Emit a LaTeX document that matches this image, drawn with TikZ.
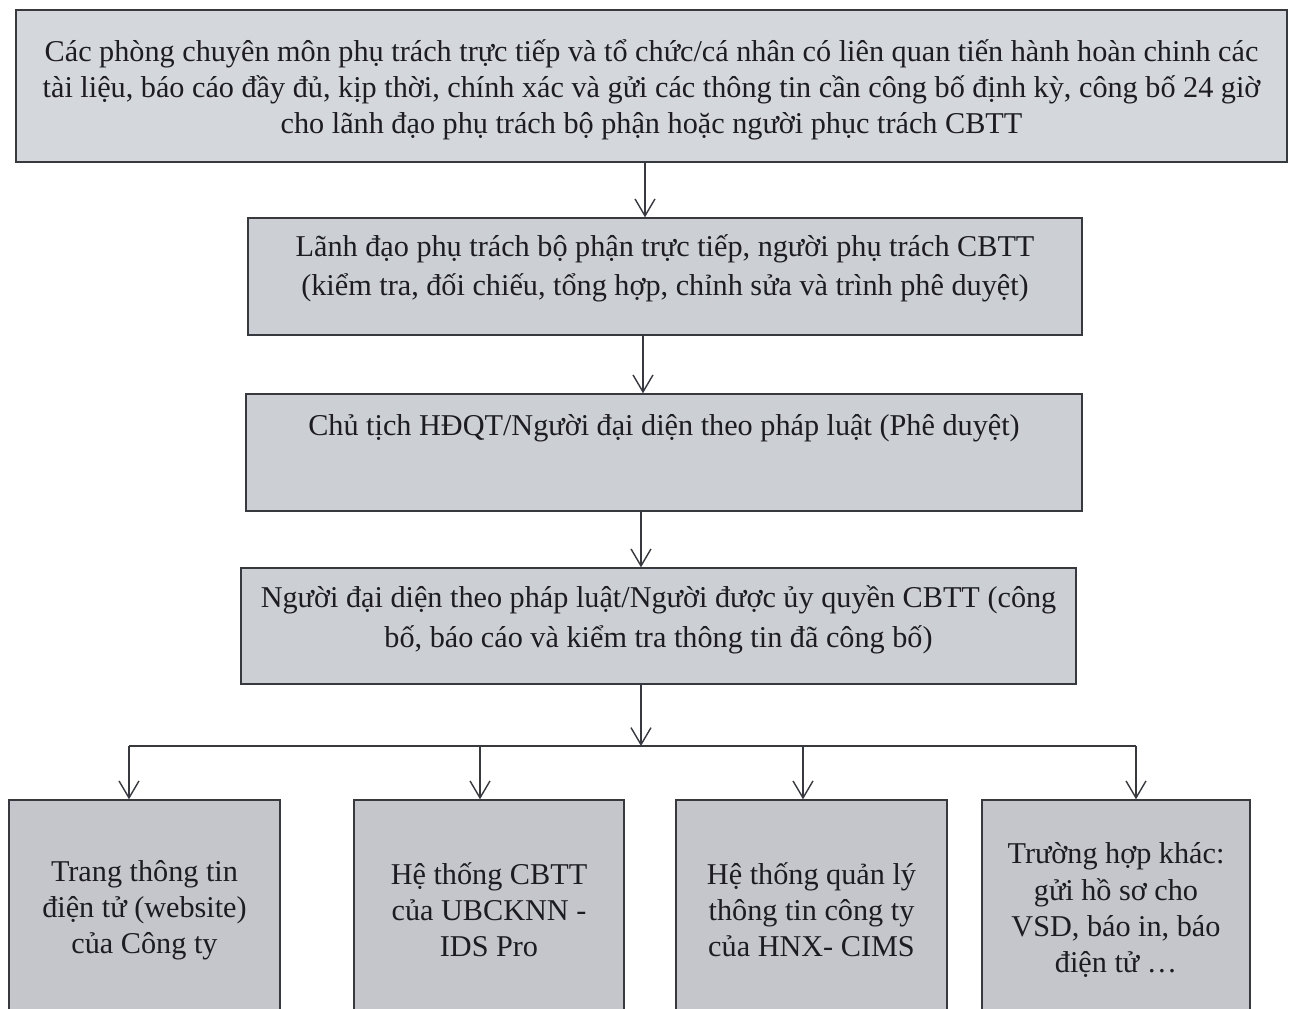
\documentclass[tikz,border=0pt]{standalone}
\usepackage{fontspec}
\setmainfont{Liberation Serif}
\usepackage{xcolor}
\usetikzlibrary{arrows.meta}
\definecolor{boxgray}{RGB}{204,207,212}
\definecolor{boxgraylight}{RGB}{212,215,220}
\definecolor{boxgraydark}{RGB}{196,198,203}
\definecolor{lineink}{RGB}{55,57,64}
\definecolor{textink}{RGB}{28,28,34}

\tikzset{
  flowbox/.style={draw=lineink, line width=0.8pt, fill=boxgray, align=center,
    text=textink, inner sep=2pt, font=\fontsize{17.2}{22.5}\selectfont},
  channelbox/.style={flowbox, fill=boxgraydark, minimum width=5.4cm, minimum height=4.4cm,
    font=\fontsize{17.2}{20.5}\selectfont},
  arr/.style={draw=lineink, line width=0.8pt, -{Straight Barb[length=3.4mm,width=4mm]}}
}

\begin{document}
\begin{tikzpicture}
    \useasboundingbox (0,0) rectangle (25.88,-20.18);

    \node[flowbox, fill=boxgraylight, minimum width=25.42cm, minimum height=3.04cm,
      font=\fontsize{17.2}{20.6}\selectfont] (prepare) at (13.03,-1.72)
      {\rule{0pt}{17pt}Các phòng chuyên môn phụ trách trực tiếp và tổ chức/cá nhân có liên quan tiến hành hoàn chinh các\\
       tài liệu, báo cáo đầy đủ, kịp thời, chính xác và gửi các thông tin cần công bố định kỳ, công bố 24 giờ\\
       cho lãnh đạo phụ trách bộ phận hoặc người phục trách CBTT};
    \node[flowbox, minimum width=16.68cm, minimum height=2.34cm] (review) at (13.3,-5.53)
      {Lãnh đạo phụ trách bộ phận trực tiếp, người phụ trách CBTT\\
       (kiểm tra, đối chiếu, tổng hợp, chỉnh sửa và trình phê duyệt)\rule[-13pt]{0pt}{0pt}};
    \node[flowbox, minimum width=16.72cm, minimum height=2.34cm] (approve) at (13.28,-9.05)
      {Chủ tịch HĐQT/Người đại diện theo pháp luật (Phê duyệt)\\[9pt]~};
    \node[flowbox, minimum width=16.7cm, minimum height=2.32cm] (publish) at (13.17,-12.52)
      {Người đại diện theo pháp luật/Người được ủy quyền CBTT (công\\
       bố, báo cáo và kiểm tra thông tin đã công bố)\rule[-11pt]{0pt}{0pt}};

    \node[channelbox, minimum width=5.42cm] (website) at (2.89,-18.2)
      {Trang thông tin\\điện tử (website)\\của Công ty};
    \node[channelbox] (idspro) at (9.78,-18.2)
      {Hệ thống CBTT\\của UBCKNN -\\IDS Pro};
    \node[channelbox, minimum width=5.42cm] (cims) at (16.23,-18.2)
      {Hệ thống quản lý\\thông tin công ty\\của HNX- CIMS};
    \node[channelbox, minimum width=5.36cm] (other) at (22.32,-18.2)
      {Trường hợp khác:\\gửi hồ sơ cho\\VSD, báo in, báo\\điện tử …};

    % main flow
    \draw[arr] ([xshift=-1.3mm]prepare.south) coordinate (a1) -- (a1 |- review.north);
    \draw[arr] ([xshift=-4.4mm]review.south) coordinate (a2) -- (a2 |- approve.north);
    \draw[arr] ([xshift=-4.6mm]approve.south) coordinate (a3) -- (a3 |- publish.north);

    % distribution bus
    \coordinate (d1) at (2.58,-14.92);
    \coordinate (d2) at (9.6,-14.92);
    \coordinate (d3) at (16.06,-14.92);
    \coordinate (d4) at (22.72,-14.92);
    \draw[arr] ([xshift=-3.5mm]publish.south) coordinate (a4) -- (a4 |- d1);
    \draw[draw=lineink, line width=0.8pt] (d1) -- (d4);
    \draw[arr] (d1) -- (d1 |- website.north);
    \draw[arr] (d2) -- (d2 |- idspro.north);
    \draw[arr] (d3) -- (d3 |- cims.north);
    \draw[arr] (d4) -- (d4 |- other.north);
\end{tikzpicture}
\end{document}
